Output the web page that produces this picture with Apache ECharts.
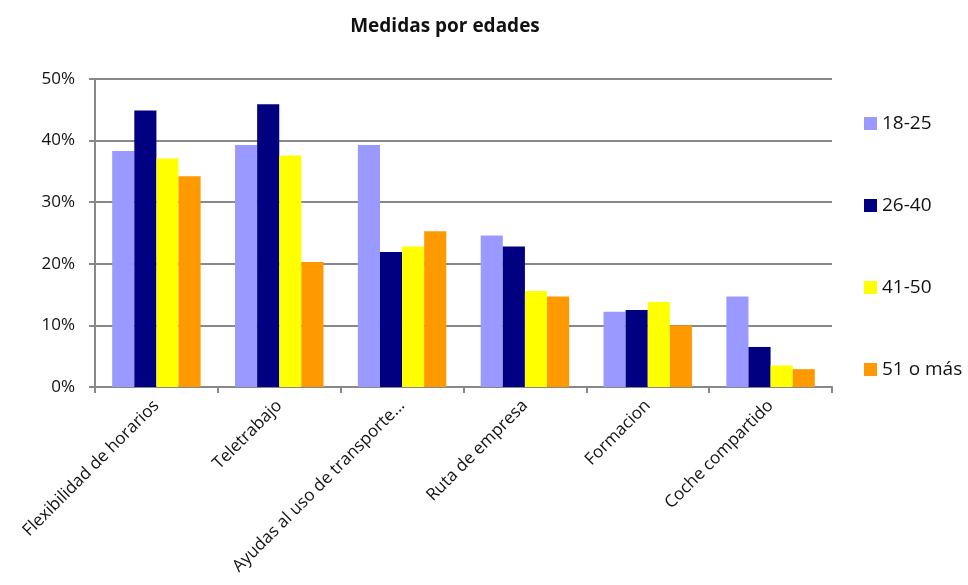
<!DOCTYPE html>
<html>
<head>
<meta charset="utf-8">
<script src="https://cdn.jsdelivr.net/npm/echarts@6/dist/echarts.min.js"></script>
<style>html,body{margin:0;padding:0;background:#fff;}#c{width:968px;height:585px;}</style>
</head>
<body>
<div id="c"></div>
<script>
var categories = ['Flexibilidad de horarios', 'Teletrabajo', 'Ayudas al uso de transporte...', 'Ruta de empresa', 'Formacion', 'Coche compartido'];
var seriesNames = ['18-25', '26-40', '41-50', '51 o más'];
var s18_25 = [38.3, 39.3, 39.3, 24.6, 12.2, 14.7];
var s26_40 = [44.9, 45.9, 21.9, 22.8, 12.5, 6.5];
var s41_50 = [37.1, 37.6, 22.8, 15.6, 13.8, 3.5];
var s51 = [34.2, 20.3, 25.3, 14.7, 10.0, 2.9];
var yTicks = [0, 10, 20, 30, 40, 50];
var colors = ['#9999FF', '#000080', '#FFFF00', '#FF9900'];
var font = 'Open Sans, Liberation Sans, sans-serif';

var chart = echarts.init(document.getElementById('c'), null, {renderer: 'canvas'});
var data = [s18_25, s26_40, s41_50, s51];
chart.setOption({
  animation: false,
  backgroundColor: '#fff',
  title: {
    text: 'Medidas por edades',
    left: 440, top: 12, textAlign: 'center',
    textStyle: {fontFamily: font, fontSize: 19, fontWeight: 'bold', color: '#111'}
  },
  legend: {
    orient: 'vertical',
    left: 859, top: 109,
    itemWidth: 13, itemHeight: 13, itemGap: 63,
    icon: 'rect',
    textStyle: {fontFamily: font, fontSize: 19, color: '#111'},
    data: seriesNames
  },
  grid: {left: 95, right: 136, top: 79, bottom: 198, containLabel: false},
  xAxis: {
    type: 'category',
    data: categories,
    axisLine: {lineStyle: {color: '#888', width: 2}},
    axisTick: {show: true, alignWithLabel: false, length: 6, lineStyle: {color: '#888', width: 2}},
    axisLabel: {rotate: 45, interval: 0, fontFamily: font, fontSize: 17, color: '#111', margin: 16}
  },
  yAxis: {
    type: 'value',
    min: yTicks[0], max: yTicks[yTicks.length - 1], interval: 10,
    axisLine: {show: true, lineStyle: {color: '#888', width: 2}},
    axisTick: {show: true, length: 6, lineStyle: {color: '#888', width: 2}},
    splitLine: {lineStyle: {color: '#888', width: 2}},
    axisLabel: {formatter: '{value}%', fontFamily: font, fontSize: 17, color: '#111', margin: 20}
  },
  series: seriesNames.map(function (n, i) {
    return {
      name: n, type: 'bar', data: data[i],
      itemStyle: {color: colors[i]},
      barGap: '0%', barCategoryGap: '28%'
    };
  })
});
</script>
</body>
</html>
